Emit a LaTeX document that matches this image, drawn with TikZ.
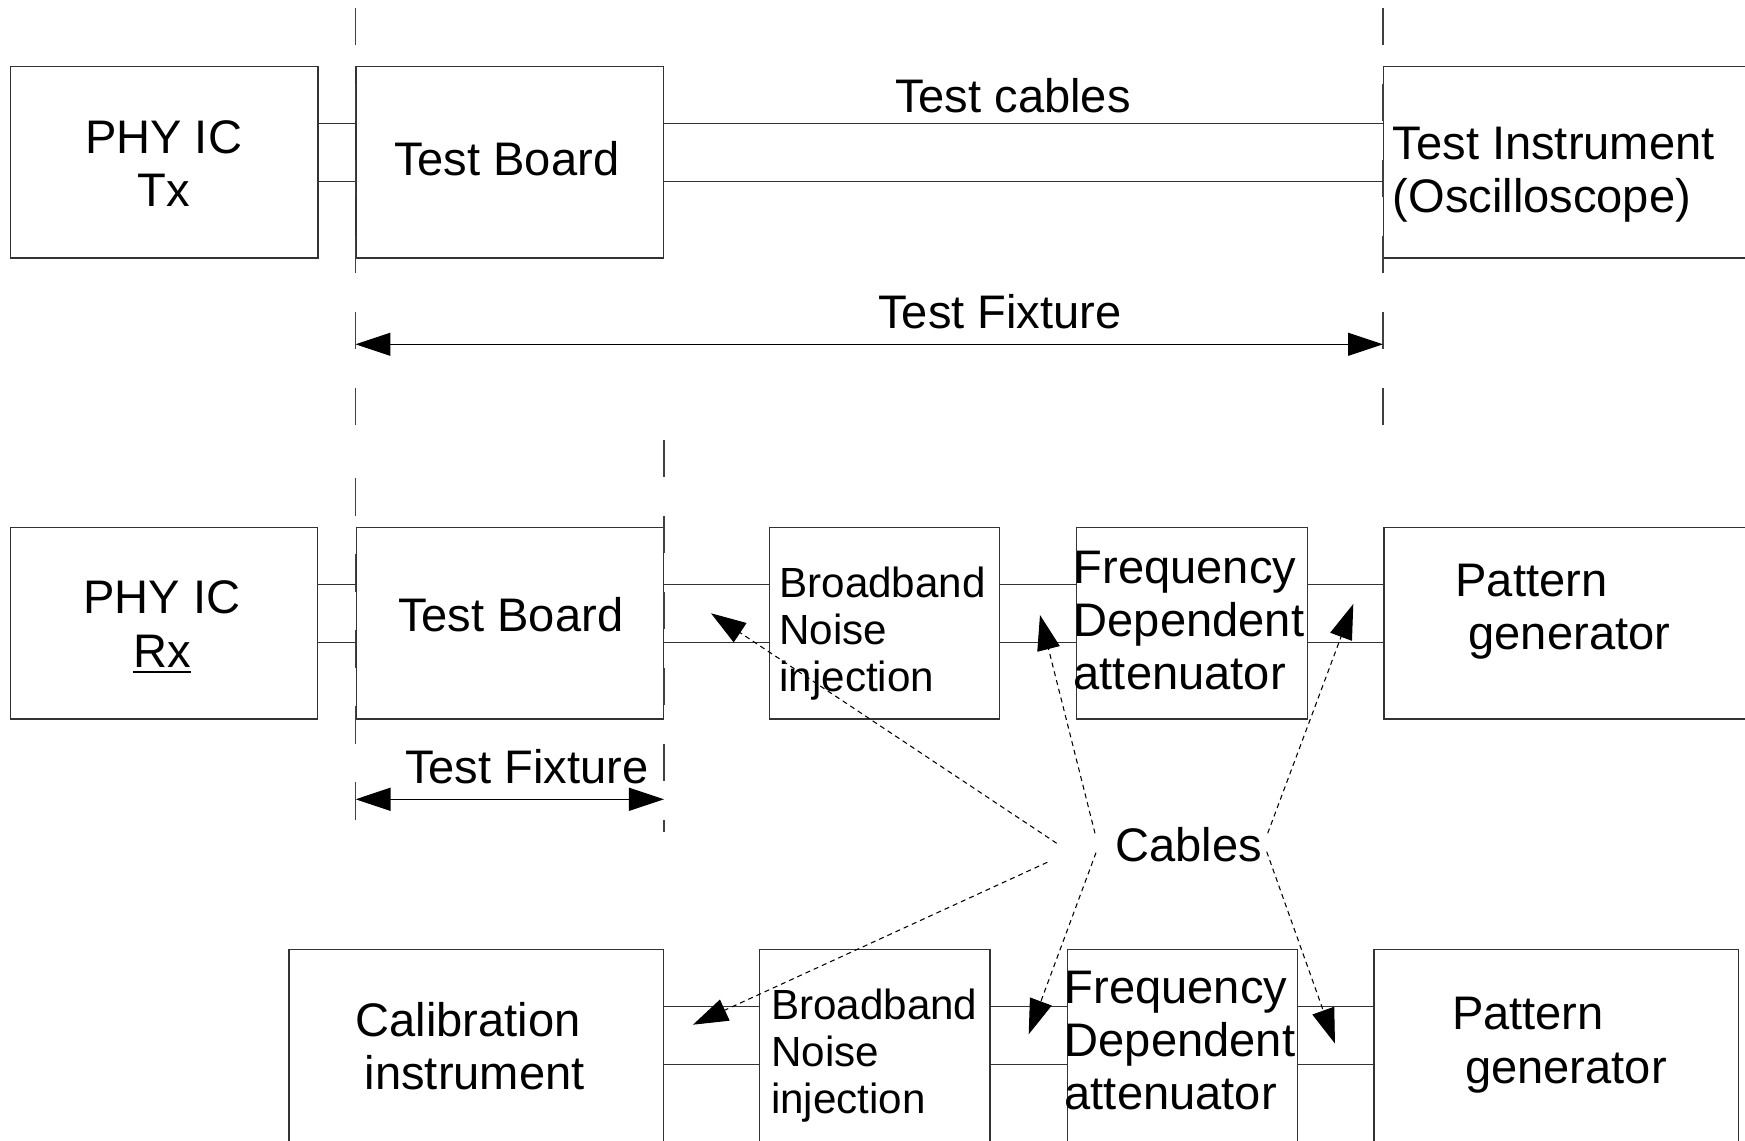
\documentclass[tikz,border=0pt]{standalone}
\usepackage{fontspec}
\setmainfont{Liberation Sans}
\usetikzlibrary{positioning, calc, arrows.meta}

\begin{document}
\begin{tikzpicture}[x=1cm, y=-1cm, >={Triangle[length=3.5mm, width=2.3mm]},
	box/.style={draw=black!80, line width=0.35pt, anchor=north west, minimum height=1.916cm, inner sep=0pt},
	wire/.style={black!80, line width=0.35pt},
	guide/.style={black!75, line width=0.35pt, dash pattern=on 3.75mm off 3.85mm},
	cable/.style={black, line width=0.3pt, dash pattern=on 0.5mm off 0.4mm, ->},
	txt/.style={inner sep=0pt, font=\fontsize{13.4}{15.2}\selectfont},
	small/.style={inner sep=0pt, font=\fontsize{12}{13.4}\selectfont}]
	\path[use as bounding box] (0, 0) rectangle (17.45, 11.41);
	\clip (0, 0) rectangle (17.45, 11.41);

	% Tx setup
	\node[box, minimum width=3.076cm] (txic) at (0.098, 0.657) {};
	\node[box, minimum width=3.074cm] (tbtx) at (3.554, 0.657) {};
	\node[box, minimum width=3.8cm] (inst) at (13.83, 0.657) {};
	\node[txt, align=center, anchor=north] (txic-t) at (1.636, 1.20) {PHY IC\\Tx};
	\node[txt, anchor=base] (tbtx-t) at (5.067, 1.76) {Test Board};
	\node[txt, align=left, anchor=north west] (inst-t) at (13.92, 1.26) {Test Instrument\\(Oscilloscope)};
	\node[txt, anchor=base] (tcab) at (10.13, 1.127) {Test cables};
	\draw[guide] (tbtx.west |- 0,0.08) -- (tbtx.west |- 0,4.30);
	\draw[guide] (inst.west |- 0,0.08) -- (inst.west |- 0,4.30);
	\draw[black, line width=0.35pt, <->] (tbtx.west |- 0,3.443) -- (inst.west |- 0,3.443);
	\node[txt, anchor=base] (tfx1) at (10.0, 3.29) {Test Fixture};

	% Rx setup
	\node[box, minimum width=3.066cm] (rxic) at (0.102, 5.267) {};
	\node[box, minimum width=3.071cm] (tbrx) at (3.556, 5.267) {};
	\node[box, minimum width=2.30cm] (bni1) at (7.686, 5.267) {};
	\node[box, minimum width=2.305cm] (fda1) at (10.76, 5.267) {};
	\node[box, minimum width=3.8cm] (pg1) at (13.833, 5.267) {};
	\node[txt, align=center, anchor=north] (rxic-t) at (1.62, 5.80) {PHY IC\\\underline{Rx}};
	\node[txt, anchor=base] (tbrx-t) at (5.107, 6.317) {Test Board};
	\node[small, align=left, anchor=north west] (bni1-t) at (7.787, 5.66) {Broadband\\Noise\\injection};
	\node[txt, align=left, anchor=north west] (fda1-t) at (10.73, 5.50) {Frequency\\Dependent\\attenuator};
	\node[txt, align=left, anchor=north west] (pg1-t) at (14.547, 5.633) {Pattern\\\hspace*{.28em}generator};
	\draw[guide] (tbrx.west |- 0,4.783) -- (tbrx.west |- 0,8.233);
	\draw[guide] (tbrx.east |- 0,4.40) -- (tbrx.east |- 0,8.32);
	\draw[black, line width=0.35pt, <->] (tbrx.west |- 0,7.993) -- (tbrx.east |- 0,7.993);
	\node[txt, anchor=base] (tfx2) at (5.268, 7.833) {Test Fixture};

	% calibration setup
	\node[box, minimum width=3.745cm] (cal) at (2.883, 9.49) {};
	\node[box, minimum width=2.301cm] (bni2) at (7.592, 9.49) {};
	\node[box, minimum width=2.304cm] (fda2) at (10.665, 9.49) {};
	\node[box, minimum width=3.643cm] (pg2) at (13.734, 9.49) {};
	\node[txt, align=center, anchor=north] (cal-t) at (4.681, 10.017) {Calibration\\\hspace*{.28em}instrument};
	\node[small, align=left, anchor=north west] (bni2-t) at (7.704, 9.883) {Broadband\\Noise\\injection};
	\node[txt, align=left, anchor=north west] (fda2-t) at (10.64, 9.70) {Frequency\\Dependent\\attenuator};
	\node[txt, align=left, anchor=north west] (pg2-t) at (14.513, 9.967) {Pattern\\\hspace*{.28em}generator};

	% cable pairs
	\foreach \a/\b in {txic/tbtx, tbtx/inst, rxic/tbrx, tbrx/bni1, bni1/fda1, fda1/pg1, cal/bni2, bni2/fda2, fda2/pg2}
		\foreach \f in {0.3, 0.6}
			\draw[wire] ($(\a.north east)!\f!(\a.south east)$) -- ($(\b.north west)!\f!(\b.south west)$);

	\node[txt, anchor=base] (cab) at (11.888, 8.617) {Cables};
	\foreach \i/\sx/\sy/\ex/\ey in {1/10.567/8.433/7.11/6.133, 2/10.95/8.333/10.40/6.15, 3/12.677/8.333/13.533/6.04,
		4/10.473/8.623/6.93/10.247, 5/10.96/8.527/10.287/10.343, 6/12.667/8.517/13.35/10.436} {
		\coordinate (k\i) at (\sx, \sy);
		\coordinate (e\i) at (\ex, \ey);
		\draw[cable] (k\i) -- (e\i);
	}
\end{tikzpicture}
\end{document}
